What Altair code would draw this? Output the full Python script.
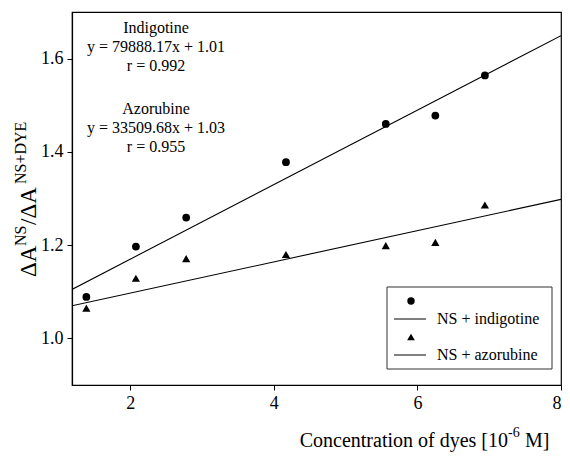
import altair as alt
import pandas as pd

# ---- data ----
conc = [1.39, 2.08, 2.78, 4.17, 5.56, 6.25, 6.94]          # 10^-6 M
indigotine = [1.089, 1.197, 1.259, 1.378, 1.460, 1.478, 1.564]
azorubine = [1.065, 1.129, 1.171, 1.180, 1.199, 1.206, 1.286]

fit_names = ["Indigotine", "Azorubine"]
fit_slopes = [79888.17, 33509.68]      # per M
fit_intercepts = [1.01, 1.03]
fit_r = [0.992, 0.955]

x_ticks = [2, 4, 6, 8]
y_ticks = [1.0, 1.2, 1.4, 1.6]
x_domain = [1.19, 8.0]
y_domain = [0.9, 1.7]

legend_labels = ["NS + indigotine", "NS + azorubine"]

FONT = "Liberation Serif, Times New Roman, serif"
W, H = 489, 373

pts = pd.DataFrame({"x": conc, "ind": indigotine, "azo": azorubine})
fits = pd.DataFrame([
    {"name": n, "slope": s, "icpt": b, "x": xv}
    for n, s, b in zip(fit_names, fit_slopes, fit_intercepts)
    for xv in x_domain
])

xs = alt.Scale(domain=x_domain, nice=False, zero=False)
ys = alt.Scale(domain=y_domain, nice=False, zero=False)
xax = alt.Axis(values=x_ticks, format="d", title=None, grid=False)
yax = alt.Axis(values=y_ticks, format=".1f", title=None, grid=False)

lines = alt.Chart(fits).transform_calculate(
    y="datum.slope * datum.x * 1e-6 + datum.icpt"
).mark_line(color="black", strokeWidth=1.1, clip=True).encode(
    x=alt.X("x:Q", scale=xs, axis=xax),
    y=alt.Y("y:Q", scale=ys, axis=yax),
    detail="name:N",
)

circles = alt.Chart(pts).mark_point(
    shape="circle", filled=True, color="black", size=60, opacity=1
).encode(x=alt.X("x:Q", scale=xs), y=alt.Y("ind:Q", scale=ys))

triangles = alt.Chart(pts).mark_point(
    shape="triangle-up", filled=True, color="black", size=68, opacity=1
).encode(x=alt.X("x:Q", scale=xs), y=alt.Y("azo:Q", scale=ys))

one = alt.Data(values=[{"a": 1}])


def txt(text, x, y, size, align="center", baseline="middle", angle=0):
    kw = dict(text=text, font=FONT, fontSize=size, color="black",
              align=align, baseline=baseline)
    if angle:
        kw["angle"] = angle
    return alt.Chart(one).mark_text(**kw).encode(x=alt.value(x), y=alt.value(y))


layers = [lines, circles, triangles]

# annotations
for i, (n, s, b, r) in enumerate(zip(fit_names, fit_slopes, fit_intercepts, fit_r)):
    base = 16 + i * 81
    layers.append(txt(n, 84, base, 16))
    layers.append(txt(f"y = {s:.2f}x + {b:.2f}", 84, base + 19, 16))
    layers.append(txt(f"r = {r:.3f}", 84, base + 38, 16))

# legend
box = alt.Chart(one).mark_rect(fill="white", stroke="#333", strokeWidth=1).encode(
    x=alt.value(315), x2=alt.value(480), y=alt.value(275), y2=alt.value(357)
)
leg_c = alt.Chart(one).mark_point(shape="circle", filled=True, color="black",
                                  size=55, opacity=1).encode(
    x=alt.value(339), y=alt.value(289))
leg_t = alt.Chart(one).mark_point(shape="triangle-up", filled=True, color="black",
                                  size=60, opacity=1).encode(
    x=alt.value(339), y=alt.value(325))
leg_l1 = alt.Chart(one).mark_rule(color="black", strokeWidth=1).encode(
    x=alt.value(322), x2=alt.value(354), y=alt.value(307))
leg_l2 = alt.Chart(one).mark_rule(color="black", strokeWidth=1).encode(
    x=alt.value(322), x2=alt.value(354), y=alt.value(343))
layers += [box, leg_c, leg_t, leg_l1, leg_l2,
           txt(legend_labels[0], 365, 307, 16, align="left"),
           txt(legend_labels[1], 365, 343, 16, align="left")]

# x-axis title with superscript
layers += [
    txt("Concentration of dyes [10", 436, 435, 20, align="right", baseline="alphabetic"),
    txt("-6", 436, 425, 14, align="left", baseline="alphabetic"),
    txt("M]", 453, 435, 20, align="left", baseline="alphabetic"),
]

# y-axis title with superscripts (rotated)
layers += [
    txt("\u0394A", -36.5, 265, 23, align="left", baseline="alphabetic", angle=270),
    txt("NS", -46.5, 234, 16, align="left", baseline="alphabetic", angle=270),
    txt("/\u0394A", -36.5, 213, 23, align="left", baseline="alphabetic", angle=270),
    txt("NS+DYE", -46.5, 172, 16, align="left", baseline="alphabetic", angle=270),
]

chart = alt.layer(*layers).properties(
    width=W, height=H,
    padding={"left": 64, "top": 4, "right": 1, "bottom": 67},
    autosize=alt.AutoSizeParams(type="none"),
).configure_view(
    stroke="black", strokeWidth=1.2
).configure_axis(
    labelFont=FONT, labelFontSize=18, labelColor="black",
    domainColor="black", domainWidth=1.2, tickColor="black", tickSize=5,
    tickWidth=1, labelPadding=4,
)

chart.save("out.html", embed_options={"renderer": "svg", "actions": False})
